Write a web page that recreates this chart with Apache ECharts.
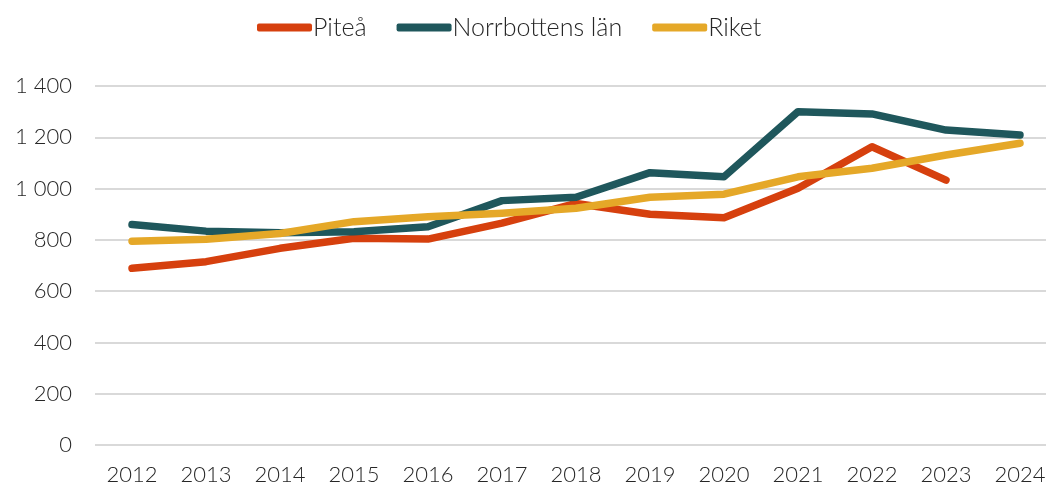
<!DOCTYPE html>
<html><head><meta charset="utf-8">
<script src="https://cdn.jsdelivr.net/npm/echarts@6/dist/echarts.min.js"></script>
<style>html,body{margin:0;padding:0;background:#fff;overflow:hidden;width:1046px;height:486px}#c{width:1057px;height:486px}</style>
</head><body><div id="c"></div>
<script>
const categories = ['2012','2013','2014','2015','2016','2017','2018','2019','2020','2021','2022','2023','2024'];
const pitea = [689, 715, 767, 806, 803, 865, 942, 900, 886, 1001, 1163, 1033, null];
const norrbotten = [860, 834, 828, 832, 851, 953, 966, 1062, 1046, 1300, 1291, 1228, 1209];
const riket = [795, 802, 825, 871, 890, 904, 923, 966, 978, 1046, 1079, 1131, 1177];
const seriesNames = ['Piteå', 'Norrbottens län', 'Riket'];
const colors = ['#D6400E', '#1F575C', '#E5A828'];
const FONT = 'Lato';
const chart = echarts.init(document.getElementById('c'), null, {renderer:'canvas'});
function fmt(v){ return String(v).replace(/\B(?=(\d{3})+(?!\d))/g, ' '); }
const mk = (name, data, color) => ({
  name, type:'line', data, symbol:'none', smooth:false,
  lineStyle:{width:7.5, color, cap:'round', join:'round'}, itemStyle:{color},
  connectNulls:false
});
chart.setOption({
  animation:false,
  color: colors,
  legend:{
    top: 10, left:252, itemWidth:55, itemHeight:8, itemGap:30,
    icon:'roundRect',
    textStyle:{fontFamily:FONT, fontSize:25, fontWeight:300, color:'#262626', padding:[0,0,0,-4]},
    data: seriesNames
  },
  grid:{left:95, right:0, top:86, bottom:41, containLabel:false},
  xAxis:{
    type:'category', data:categories, boundaryGap:true,
    axisLine:{show:false}, axisTick:{show:false},
    axisLabel:{fontFamily:FONT, fontSize:22, fontWeight:300, color:'#262626', margin:19}
  },
  yAxis:{
    type:'value', min:0, max:1400, interval:200,
    axisLine:{show:false}, axisTick:{show:false},
    splitLine:{lineStyle:{color:'#D9D9D9', width:2}},
    axisLabel:{fontFamily:FONT, fontSize:22, fontWeight:300, color:'#262626', margin:23, formatter:fmt}
  },
  series:[
    mk(seriesNames[0], pitea, colors[0]),
    mk(seriesNames[1], norrbotten, colors[1]),
    mk(seriesNames[2], riket, colors[2])
  ]
});
</script></body></html>
